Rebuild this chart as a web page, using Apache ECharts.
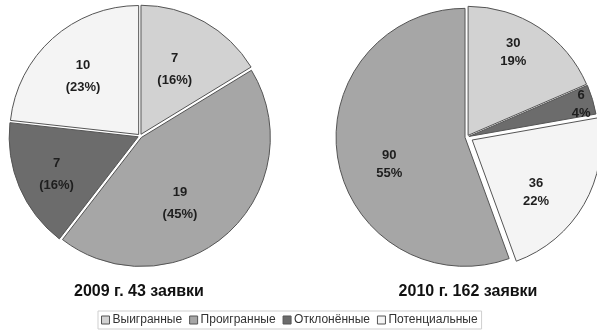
<!DOCTYPE html>
<html>
<head>
<meta charset="utf-8">
<script src="https://cdn.jsdelivr.net/npm/echarts@6/dist/echarts.min.js"></script>
<style>
  html, body { margin: 0; padding: 0; background: #fff; }
  #chart { width: 597px; height: 332px; }
</style>
</head>
<body>
<div id="chart"></div>
<script>
// Categories and colours shared by both pies
const categories = ['Выигранные', 'Проигранные', 'Отклонённые', 'Потенциальные'];
const catColors = ['#d2d2d2', '#a6a6a6', '#6c6c6c', '#f4f4f4'];

// 2009: clockwise order from 12 o'clock
const order2009 = ['Выигранные', 'Проигранные', 'Отклонённые', 'Потенциальные'];
const values2009 = [7, 19, 7, 10];
const pct2009 = ['16%', '45%', '16%', '23%'];

// 2010: clockwise order from 12 o'clock
const order2010 = ['Выигранные', 'Отклонённые', 'Потенциальные', 'Проигранные'];
const values2010 = [30, 6, 36, 90];
const pct2010 = ['19%', '4%', '22%', '55%'];

const titles = ['2009 г. 43 заявки', '2010 г. 162 заявки'];

// Label placement inside each slice: radius as a fraction of R, angle nudge in degrees
const labelPlace2009 = [[0.545, -2], [0.57, 12], [0.675, -2], [0.60, -2]];
const labelPlace2010 = [[0.71, -5], [0.88, 1], [0.62, 10], [0.6, -10]];

const R = 129;
const C2009 = [140, 136];
const C2010 = [467, 137];

function colorOf(name) { return catColors[categories.indexOf(name)]; }

// Shift that moves an inside label (at 0.5R on the mid-angle) to its placement
function labelShift(values, i, place) {
  const total = values.reduce((a, b) => a + b, 0);
  let cum = 0;
  for (let k = 0; k < i; k++) cum += values[k];
  const mid = (cum + values[i] / 2) / total * 2 * Math.PI;
  const a = mid + place[1] * Math.PI / 180;
  const r = place[0] * R;
  const r0 = 0.5 * R;
  return {
    dx: r * Math.sin(a) - r0 * Math.sin(mid),
    dy: -r * Math.cos(a) + r0 * Math.cos(mid)
  };
}

function buildData(order, values, pct, fmt, visible) {
  return order.map((name, i) => {
    const show = visible(i);
    return {
      name: name,
      value: values[i],
      selected: true,
      itemStyle: show
        ? { color: colorOf(name), borderColor: '#555555', borderWidth: 1 }
        : { color: 'rgba(0,0,0,0)', borderWidth: 0 },
      label: { show: show, formatter: fmt(values[i], pct[i]) }
    };
  });
}

const labelBase = {
  position: 'inside',
  fontFamily: 'Arial, "Liberation Sans", sans-serif',
  fontWeight: 'bold',
  fontSize: 13,
  color: '#1e1e1e'
};

function pieSeries(center, data, values, places, offset, lineHeight) {
  return {
    type: 'pie',
    center: center,
    radius: [0, R],
    startAngle: 90,
    clockwise: true,
    selectedMode: 'multiple',
    selectedOffset: offset,
    silent: true,
    animation: false,
    avoidLabelOverlap: false,
    labelLine: { show: false },
    label: Object.assign({}, labelBase, { lineHeight: lineHeight }),
    labelLayout: function (params) {
      return labelShift(values, params.dataIndex, places[params.dataIndex]);
    },
    emphasis: { disabled: true },
    data: data
  };
}

const fmt2009 = (v, p) => v + '\n(' + p + ')';
const fmt2010 = (v, p) => v + '\n' + p;

const idx36 = order2010.indexOf('Потенциальные');

const titleStyle = { fontFamily: 'Arial, "Liberation Sans", sans-serif', fontWeight: 'bold', fontSize: 16, color: '#111' };

const option = {
  backgroundColor: '#ffffff',
  animation: false,
  title: [
    { text: titles[0], left: 134, top: 279, textAlign: 'center', textStyle: titleStyle },
    { text: titles[1], left: 463, top: 279, textAlign: 'center', textStyle: titleStyle }
  ],
  legend: {
    data: categories.map((c, i) => ({
      name: c,
      itemStyle: { color: catColors[i], borderColor: '#555', borderWidth: 1 }
    })),
    left: 98,
    top: 311,
    icon: 'rect',
    itemWidth: 8,
    itemHeight: 8,
    itemGap: 7,
    padding: [3, 4, 3, 3],
    borderColor: '#cfcfcf',
    borderWidth: 1,
    selectedMode: false,
    textStyle: { fontFamily: 'Arial, "Liberation Sans", sans-serif', fontSize: 12, color: '#333', padding: [0, 0, 0, -2] }
  },
  series: [
    pieSeries(C2009, buildData(order2009, values2009, pct2009, fmt2009, () => true), values2009, labelPlace2009, 2, 22),
    pieSeries(C2010, buildData(order2010, values2010, pct2010, fmt2010, i => i !== idx36), values2010, labelPlace2010, 2, 18),
    pieSeries(C2010, buildData(order2010, values2010, pct2010, fmt2010, i => i === idx36), values2010, labelPlace2010, 6, 18)
  ]
};

const chart = echarts.init(document.getElementById('chart'), null, { renderer: 'canvas' });
chart.setOption(option);
</script>
</body>
</html>
